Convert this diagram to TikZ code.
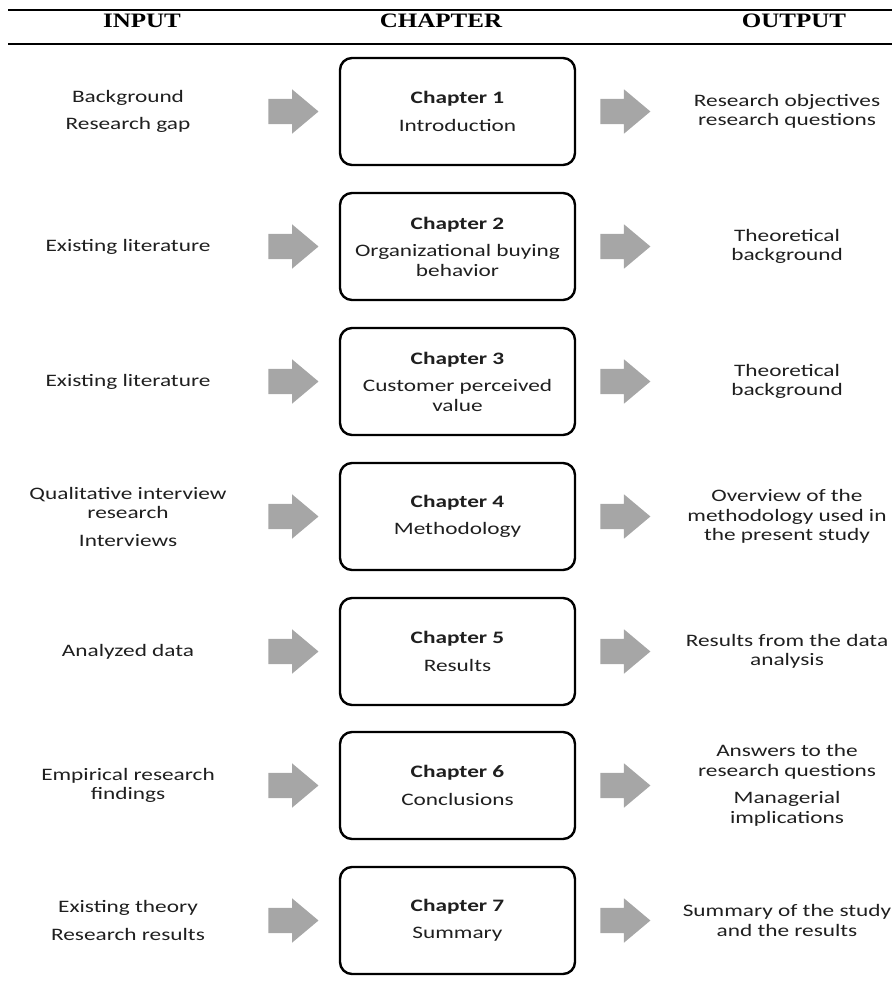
\documentclass[tikz,border=0pt]{standalone}
\usepackage{fontspec}
\setmainfont{Carlito}[FakeStretch=1.33]
\newfontfamily\headfont{Liberation Serif}[FakeStretch=1.22]
\usetikzlibrary{positioning,shapes.arrows}

\colorlet{ArrowGrey}{black!35}
\colorlet{TextGrey}{black!88}
\newcommand{\bodyfont}{\fontsize{17.5pt}{19.5pt}\selectfont}

\begin{document}
\begin{tikzpicture}[x=1pt,y=-1pt,
  chapbox/.style={draw, line width=2.4pt, rounded corners=12pt, minimum width=235pt,
    minimum height=107pt, align=center, font=\bodyfont, text=TextGrey},
  blockarrow/.style={single arrow, fill=ArrowGrey, minimum height=50pt,
    single arrow head extend=9.5pt, single arrow tip angle=80, inner xsep=0pt, inner ysep=12.5pt},
  sidetext/.style={align=center, font=\bodyfont, text=TextGrey},
  headtext/.style={font=\headfont\fontsize{20.5pt}{22pt}\selectfont\bfseries}]

\useasboundingbox (0,0) rectangle (892,987);

%Header
\draw [line width=1.5pt] (8,10) -- (892,10);
\draw [line width=1.5pt] (8,44) -- (892,44);
\node[headtext] (hin) at (142,21) {INPUT};
\node[headtext] (hch) at (441,21) {CHAPTER};
\node[headtext] (hout) at (794,21) {OUTPUT};

%Chapters with input and output
\foreach \i/\y/\intext/\chtitle/\outtext in {
  1/111.5/{Background\\[8pt]Research gap}/{Introduction}/{Research objectives\\research questions},
  2/246.5/{Existing literature}/{Organizational buying\\behavior}/{Theoretical\\background},
  3/381.5/{Existing literature}/{Customer perceived\\value}/{Theoretical\\background},
  4/516.5/{Qualitative interview\\research\\[8pt]Interviews}/{Methodology}/{Overview of the\\methodology used in\\the present study},
  5/651.5/{Analyzed data}/{Results}/{Results from the data\\analysis},
  6/785.5/{Empirical research\\findings}/{Conclusions}/{Answers to the\\research questions\\[8pt]Managerial\\implications},
  7/920.5/{Existing theory\\[8pt]Research results}/{Summary}/{Summary of the study\\and the results}}
{
  \node[chapbox] (ch\i) at (457.5,\y) {{\bfseries Chapter \i}\\[8pt]\chtitle};
  \node[blockarrow, left=20pt of ch\i] (inarr\i) {};
  \node[blockarrow, right=24pt of ch\i] (outarr\i) {};
  \node[sidetext] (in\i) at (128,\y) {\intext};
  \node[sidetext] (out\i) at (787,\y) {\outtext};
}

\end{tikzpicture}
\end{document}
